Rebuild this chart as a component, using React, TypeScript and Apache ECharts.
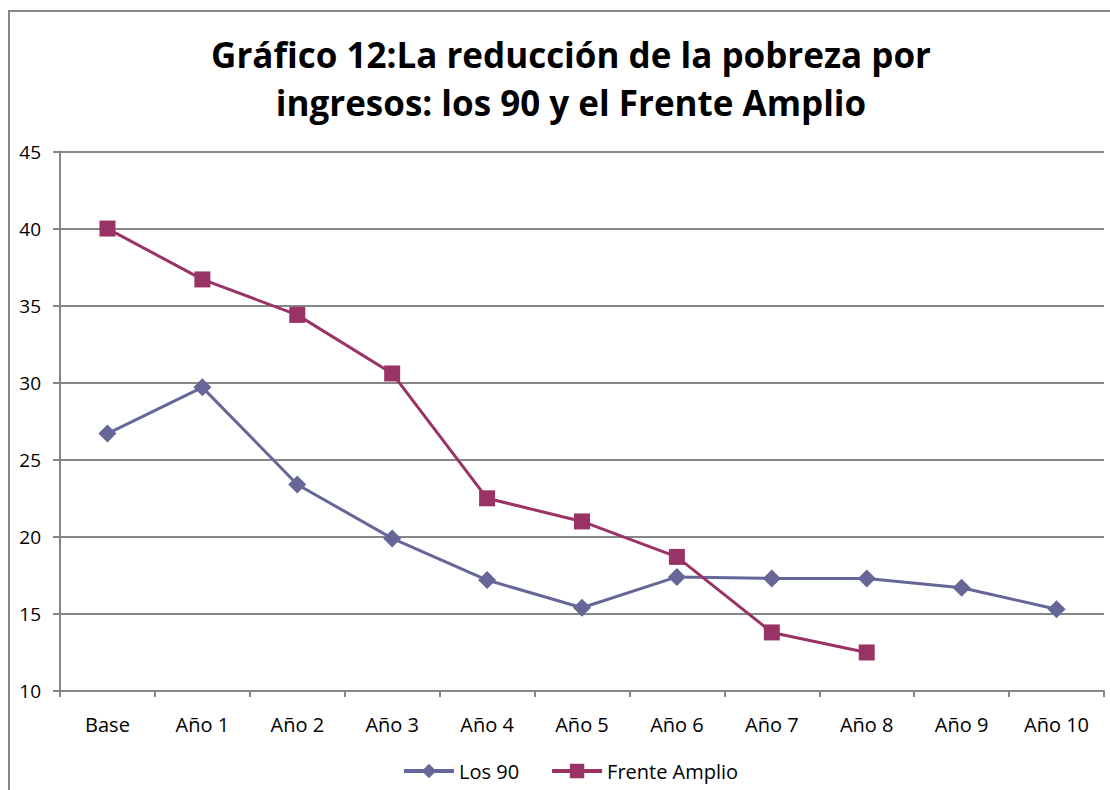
import React, { useEffect, useRef } from "react";
import * as echarts from "echarts";

const categories = ["Base", "Año 1", "Año 2", "Año 3", "Año 4", "Año 5", "Año 6", "Año 7", "Año 8", "Año 9", "Año 10"];
const los90 = [26.7, 29.7, 23.4, 19.9, 17.2, 15.4, 17.4, 17.3, 17.3, 16.7, 15.3];
const frenteAmplio = [40.0, 36.7, 34.4, 30.6, 22.5, 21.0, 18.7, 13.8, 12.5, null, null];
const titleLines = ["Gráfico 12:La reducción de la pobreza por", "ingresos: los 90 y el Frente Amplio"];
const yMin = 10;
const yMax = 45;
const yStep = 5;

const FONT = "'Open Sans', Lato, sans-serif";

export default function App() {
  const ref = useRef<HTMLDivElement>(null);
  useEffect(() => {
    if (!ref.current) return;
    const chart = echarts.init(ref.current, null, { renderer: "svg" });
    chart.setOption({
      animation: false,
      backgroundColor: "#ffffff",
      textStyle: { fontFamily: FONT },
      graphic: [
        {
          type: "rect",
          shape: { x: 9, y: 11, width: 1300, height: 1000 },
          style: { fill: "none", stroke: "#868686", lineWidth: 2 },
          silent: true,
        },
      ],
      title: {
        text: titleLines.join("\n"),
        left: 566,
        textAlign: "center",
        top: 25,
        textStyle: {
          fontFamily: FONT,
          fontWeight: "bold",
          fontSize: 35,
          lineHeight: 48,
          color: "#000000",
        },
      },
      legend: {
        top: 756,
        left: 397,
        itemGap: 31,
        itemWidth: 50,
        itemHeight: 18,
        lineStyle: { width: 4 },
        textStyle: { fontFamily: FONT, fontSize: 20, color: "#000000" },
        data: ["Los 90", "Frente Amplio"],
      },
      grid: { left: 60, top: 151.5, width: 1044, height: 539.5, containLabel: false },
      xAxis: {
        type: "category",
        data: categories,
        boundaryGap: true,
        axisLine: { show: true, lineStyle: { color: "#868686", width: 2 } },
        axisTick: { show: true, length: 6, lineStyle: { color: "#868686", width: 2 } },
        axisLabel: { fontFamily: FONT, fontSize: 20, color: "#000000", margin: 23 },
        splitLine: { show: false },
      },
      yAxis: {
        type: "value",
        min: yMin,
        max: yMax,
        interval: yStep,
        axisLine: { show: true, lineStyle: { color: "#868686", width: 2 } },
        axisTick: { show: true, length: 7, lineStyle: { color: "#868686", width: 2 } },
        axisLabel: { fontFamily: FONT, fontSize: 19, color: "#000000", margin: 19 },
        splitLine: { show: true, lineStyle: { color: "#868686", width: 2 } },
      },
      series: [
        {
          name: "Los 90",
          type: "line",
          data: los90,
          symbol: "diamond",
          symbolSize: 18,
          itemStyle: { color: "#666699" },
          lineStyle: { color: "#666699", width: 3 },
        },
        {
          name: "Frente Amplio",
          type: "line",
          data: frenteAmplio,
          symbol: "rect",
          symbolSize: 16,
          itemStyle: { color: "#993366" },
          lineStyle: { color: "#993366", width: 3 },
        },
      ],
    });
    return () => chart.dispose();
  }, []);
  return (
    <div
      ref={ref}
      style={{ position: "absolute", left: 0, top: 0, width: 1110, height: 790 }}
    />
  );
}
